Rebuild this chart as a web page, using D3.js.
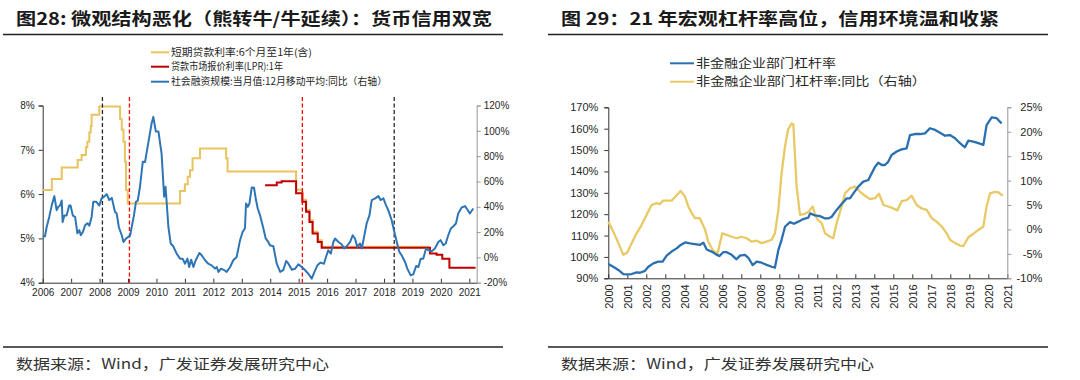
<!DOCTYPE html>
<meta charset="utf-8">
<style>
  body { margin: 0; background: #fff; }
  svg { display: block; background: #fff; }
  text { font-family: "Liberation Sans", Arial, sans-serif; }
  .cjk { font-family: "Noto Sans CJK SC", sans-serif; }
  .axis text { font-size: 10px; fill: #262626; }
  .axis2 text { font-size: 11px; fill: #262626; }
</style>
<body>
<svg width="1080" height="380"></svg>
</body>
<script src="https://cdn.jsdelivr.net/npm/d3@7"></script>
<script>
// ---------- left chart data (figure 28) ----------
// short-term loan rate 6m-1y (left axis, %), step changes [year, value]
var shortRate = [[2006.0, 6.09], [2006.32, 6.34], [2006.67, 6.6], [2007.23, 6.77], [2007.37, 6.88],
  [2007.52, 7.06], [2007.57, 7.18], [2007.64, 7.39], [2007.69, 7.54], [2007.72, 7.79], [2007.99, 7.98],
  [2008.72, 7.69], [2008.78, 7.45], [2008.84, 7.18], [2008.89, 6.73], [2008.93, 6.09], [2008.99, 5.79],
  [2010.83, 6.07], [2011.0, 6.22], [2011.1, 6.39], [2011.18, 6.54], [2011.27, 6.81], [2011.53, 7.03],
  [2012.45, 6.81], [2012.5, 6.51], [2014.91, 6.1], [2015.13, 5.87], [2015.26, 5.64], [2015.38, 5.41],
  [2015.49, 5.15], [2015.67, 4.96], [2015.81, 4.81], [2019.6, 4.81]];
// LPR 1y (left axis, %)
var lpr = [[2013.82, 6.2], [2014.23, 6.26], [2014.4, 6.29], [2014.91, 6.02], [2015.13, 5.83],
  [2015.26, 5.6], [2015.38, 5.37], [2015.49, 5.11], [2015.67, 4.92], [2015.81, 4.79], [2019.62, 4.66],
  [2019.85, 4.63], [2020.05, 4.54], [2020.3, 4.34], [2021.22, 4.34]];
// social financing, 12m moving avg, yoy (right axis, %)
var tsf = [[2006.0, 16.2], [2006.08, 16.7], [2006.14, 24], [2006.23, 32], [2006.32, 41.3], [2006.41, 48.4],
  [2006.49, 37.3], [2006.55, 40], [2006.61, 41], [2006.67, 45], [2006.7, 28], [2006.76, 33], [2006.84, 33],
  [2006.93, 41], [2006.98, 41], [2007.06, 33], [2007.14, 32], [2007.22, 19], [2007.29, 21.5], [2007.34, 17.5],
  [2007.41, 20], [2007.49, 25.4], [2007.57, 27], [2007.64, 25], [2007.72, 32], [2007.78, 44], [2007.88, 44],
  [2007.99, 41], [2008.07, 46.6], [2008.16, 48], [2008.25, 50], [2008.34, 45.3], [2008.43, 47], [2008.54, 36],
  [2008.6, 34.7], [2008.68, 23.6], [2008.78, 17.5], [2008.84, 12.2], [2008.93, 14.9], [2009.01, 16.2],
  [2009.07, 17], [2009.13, 24], [2009.21, 33.4], [2009.28, 44], [2009.34, 44.7], [2009.42, 55.8],
  [2009.52, 75.6], [2009.6, 75.4], [2009.66, 83.5], [2009.75, 95.4], [2009.83, 106], [2009.89, 111],
  [2009.95, 103], [2009.98, 99.4], [2010.07, 99.4], [2010.18, 82], [2010.27, 48], [2010.32, 55.8],
  [2010.42, 24], [2010.5, 11], [2010.59, 8.8], [2010.71, 3], [2010.83, -1], [2010.92, -1], [2011.0, -5],
  [2011.09, -1], [2011.15, -7.6], [2011.22, -1.8], [2011.3, -7.6], [2011.38, -2.3], [2011.51, 3.5],
  [2011.59, 1.7], [2011.71, -2.3], [2011.82, -5], [2011.94, -6.3], [2012.06, -8.9], [2012.12, -7.6],
  [2012.18, -11.5], [2012.27, -8.9], [2012.38, -10], [2012.47, -11.5], [2012.59, -7.6], [2012.7, -2.3],
  [2012.82, 0.3], [2012.94, 13.6], [2013.03, 20.2], [2013.11, 22.8], [2013.15, 42.6], [2013.21, 40],
  [2013.27, 42.6], [2013.35, 55.3], [2013.43, 55], [2013.5, 45.3], [2013.56, 38.6], [2013.64, 33.4],
  [2013.76, 22.8], [2013.84, 15], [2013.93, 12.2], [2013.99, 9.6], [2014.11, 8.8], [2014.23, -5],
  [2014.35, -11.5], [2014.46, -10], [2014.56, -2.8], [2014.64, -5], [2014.76, -9.7], [2014.87, -9],
  [2014.99, -5.5], [2015.11, -7.6], [2015.22, -10], [2015.34, -12.9], [2015.46, -16.8], [2015.54, -12.3],
  [2015.66, -6.3], [2015.77, -4.1], [2015.89, -5], [2015.96, 0.3], [2016.04, 5.6], [2016.13, 3],
  [2016.22, 12.2], [2016.28, 14.9], [2016.4, 12.2], [2016.51, 10.4], [2016.6, 7], [2016.69, 8.8],
  [2016.81, 12.2], [2016.9, 17.5], [2016.98, 14.9], [2017.06, 8.3], [2017.16, 11], [2017.22, 7],
  [2017.3, 16.2], [2017.39, 26.8], [2017.49, 33.4], [2017.57, 45.3], [2017.69, 46.6], [2017.8, 48.4],
  [2017.88, 45.3], [2017.98, 46.6], [2018.07, 41.3], [2018.15, 37.3], [2018.27, 29.4], [2018.35, 21.5],
  [2018.45, 12.2], [2018.54, 4.3], [2018.62, 1.7], [2018.74, -3.6], [2018.82, -8.9], [2018.94, -14.2],
  [2019.03, -13.4], [2019.13, -6.8], [2019.21, -7.6], [2019.29, -1], [2019.38, -1], [2019.48, 7],
  [2019.56, 5.6], [2019.68, 4.8], [2019.79, 7], [2019.91, 12.2], [2019.99, 13.6], [2020.09, 9.6],
  [2020.17, 11], [2020.26, 17.5], [2020.35, 22.8], [2020.44, 24.6], [2020.53, 26.8], [2020.61, 34.7],
  [2020.73, 39.4], [2020.85, 40.5], [2020.93, 37.8], [2021.02, 34.7], [2021.14, 38.6]];
// turning points marked with dashed lines
var markYears = [2008.1, 2009.05, 2015.13, 2018.36];
var markColors = ["#262626", "#ff0000", "#ff0000", "#262626"];
var yearsL = d3.range(2006, 2022);
var leftTicksL = [4, 5, 6, 7, 8];
var rightTicksL = [-20, 0, 20, 40, 60, 80, 100, 120];

// ---------- right chart data (figure 29) ----------
// non-financial corporate leverage (left axis, %)
var lev = [[2000.0, 96.7], [2000.26, 95.4], [2000.53, 93.9], [2000.79, 92.0], [2001.0, 91.8], [2001.23, 92.0],
  [2001.49, 92.8], [2001.67, 92.6], [2001.93, 93.5], [2002.11, 95.4], [2002.37, 97.0], [2002.63, 97.8],
  [2002.86, 97.8], [2003.07, 100.6], [2003.33, 102.5], [2003.6, 104.0], [2003.81, 105.6], [2004.04, 106.8],
  [2004.3, 106.3], [2004.56, 106.0], [2004.82, 105.6], [2005.0, 106.7], [2005.18, 103.5], [2005.44, 102.5],
  [2005.67, 101.2], [2005.84, 100.4], [2006.05, 102.2], [2006.23, 102.2], [2006.49, 101.0], [2006.75, 98.9],
  [2006.93, 100.6], [2007.19, 101.0], [2007.37, 99.6], [2007.6, 96.2], [2007.81, 97.8], [2008.07, 97.3],
  [2008.33, 96.3], [2008.6, 95.4], [2008.77, 95.0], [2008.95, 103.2], [2009.12, 108.0], [2009.3, 114.1],
  [2009.56, 116.3], [2009.77, 115.5], [2010.0, 116.5], [2010.26, 117.7], [2010.53, 118.4], [2010.62, 120.4],
  [2010.88, 119.4], [2011.14, 119.1], [2011.41, 118.0], [2011.58, 118.0], [2011.76, 118.8], [2012.02, 122.0],
  [2012.28, 124.8], [2012.55, 127.4], [2012.72, 127.4], [2012.9, 129.7], [2013.16, 132.9], [2013.42, 135.2],
  [2013.69, 136.0], [2013.86, 139.1], [2014.04, 142.2], [2014.21, 144.1], [2014.39, 143.0], [2014.56, 143.0],
  [2014.74, 144.6], [2014.91, 147.7], [2015.18, 149.3], [2015.44, 150.3], [2015.7, 150.8], [2015.88, 157.0],
  [2016.14, 157.5], [2016.41, 157.5], [2016.67, 157.8], [2016.93, 160.2], [2017.2, 159.4], [2017.46, 158.1],
  [2017.72, 156.7], [2017.98, 157.0], [2018.25, 155.5], [2018.51, 153.2], [2018.77, 151.3], [2018.95, 154.4],
  [2019.21, 153.9], [2019.48, 153.2], [2019.74, 152.4], [2019.91, 161.7], [2020.18, 165.3], [2020.44, 164.9],
  [2020.7, 162.5]];
// leverage yoy change (right axis, %)
var levYoy = [[2000.0, 1.6], [2000.26, -0.4], [2000.53, -2.8], [2000.79, -5.2], [2001.0, -4.7], [2001.23, -2.8],
  [2001.49, -0.8], [2001.75, 0.9], [2002.02, 3.0], [2002.28, 5.0], [2002.54, 5.4], [2002.72, 5.2],
  [2002.89, 5.9], [2003.07, 5.9], [2003.33, 5.9], [2003.6, 7.0], [2003.81, 7.9], [2004.04, 6.7],
  [2004.21, 4.7], [2004.39, 3.4], [2004.56, 2.3], [2004.82, 2.3], [2005.09, 0.0], [2005.26, -2.5],
  [2005.51, -4.3], [2005.75, -4.9], [2006.0, -0.8], [2006.23, -1.1], [2006.49, -1.5], [2006.75, -1.8],
  [2007.02, -1.5], [2007.28, -1.8], [2007.54, -2.5], [2007.81, -2.3], [2008.07, -2.8], [2008.33, -2.5],
  [2008.6, -2.1], [2008.77, -0.8], [2008.95, 4.0], [2009.12, 11.5], [2009.3, 17.0], [2009.47, 20.5],
  [2009.65, 21.7], [2009.74, 21.5], [2009.91, 8.8], [2010.09, 3.0], [2010.35, 3.2], [2010.53, 3.6],
  [2010.76, 4.7], [2010.88, 3.0], [2011.05, 1.9], [2011.23, 1.3], [2011.41, -0.8], [2011.67, -1.5],
  [2011.84, -1.8], [2012.02, 1.3], [2012.28, 4.7], [2012.46, 7.4], [2012.72, 8.4], [2012.98, 8.8],
  [2013.25, 7.7], [2013.51, 6.9], [2013.77, 6.2], [2014.04, 6.4], [2014.25, 7.3], [2014.48, 5.0],
  [2014.74, 4.7], [2015.0, 4.3], [2015.21, 3.9], [2015.44, 5.8], [2015.7, 6.0], [2015.97, 6.9],
  [2016.23, 5.0], [2016.49, 4.3], [2016.76, 4.0], [2017.02, 2.3], [2017.28, 1.6], [2017.55, 0.6],
  [2017.81, -0.8], [2017.98, -2.1], [2018.25, -2.8], [2018.51, -3.3], [2018.69, -3.4], [2018.95, -1.6],
  [2019.21, -0.9], [2019.48, -0.1], [2019.74, 0.6], [2019.91, 4.7], [2020.09, 7.4], [2020.35, 7.7],
  [2020.53, 7.6], [2020.76, 6.9]];
var yearsR = d3.range(2000, 2022);
var leftTicksR = [90, 100, 110, 120, 130, 140, 150, 160, 170];
var rightTicksR = [-10, -5, 0, 5, 10, 15, 20, 25];

var svg = d3.select("svg");
var pct = function(d) { return d + "%"; };

// ---------- common frame: titles, rules, source ----------
function frame(x0, x1, title, titleX, titleW) {
  svg.append("text").attr("class", "cjk").attr("x", titleX).attr("y", 25)
    .attr("textLength", titleW).attr("lengthAdjust", "spacingAndGlyphs")
    .style("font-size", "17px").style("font-weight", "bold").style("fill", "#1a1a1a")
    .text(title);
  svg.append("line").attr("x1", x0).attr("x2", x1).attr("y1", 34.5).attr("y2", 34.5)
    .attr("stroke", "#222").attr("stroke-width", 1.5);
  svg.append("line").attr("x1", x0).attr("x2", x1).attr("y1", 347).attr("y2", 347)
    .attr("stroke", "#222").attr("stroke-width", 1.5);
  svg.append("text").attr("class", "cjk").attr("x", titleX).attr("y", 369)
    .attr("textLength", 313).attr("lengthAdjust", "spacingAndGlyphs")
    .style("font-size", "14px").style("fill", "#333")
    .text("数据来源：Wind，广发证券发展研究中心");
}
frame(3, 503, "图28: 微观结构恶化（熊转牛/牛延续）：货币信用双宽", 16, 476);
frame(548, 1048, "图 29：21 年宏观杠杆率高位，信用环境温和收紧", 561, 438);

function legend(items, x, ys, size, lens, lineW) {
  items.forEach(function(it, i) {
    svg.append("line").attr("x1", x).attr("x2", x + lineW).attr("y1", ys[i]).attr("y2", ys[i])
      .attr("stroke", it[1]).attr("stroke-width", 2);
    svg.append("text").attr("class", "cjk").attr("x", x + lineW + 2).attr("y", ys[i])
      .attr("dy", "0.35em").attr("textLength", lens[i]).attr("lengthAdjust", "spacingAndGlyphs")
      .style("font-size", size + "px").style("fill", "#262626").text(it[0]);
  });
}

function styleAxis(g, color) {
  g.select(".domain").attr("stroke", color);
  g.selectAll(".tick line").attr("stroke", color);
}

// ---------- left chart ----------
var xL = d3.scaleLinear().domain([2006, 2021.26]).range([42.7, 476.7]);
var yL = d3.scaleLinear().domain([4, 8]).range([282.7, 105.5]);
var yLR = d3.scaleLinear().domain([-20, 120]).range([282.7, 105.5]);

var gxL = svg.append("g").attr("class", "axis").attr("transform", "translate(0,282.7)")
  .call(d3.axisBottom(xL).tickValues(yearsL).tickFormat(d3.format("d")).tickSizeInner(-4).tickSizeOuter(0).tickPadding(6));
styleAxis(gxL, "#333");
var gyL = svg.append("g").attr("class", "axis").attr("transform", "translate(42.7,0)")
  .call(d3.axisLeft(yL).tickValues(leftTicksL).tickFormat(pct).tickSize(4).tickPadding(4));
styleAxis(gyL, "#333");
var gyLR = svg.append("g").attr("class", "axis").attr("transform", "translate(476.7,0)")
  .call(d3.axisRight(yLR).tickValues(rightTicksL).tickFormat(pct).tickSize(4).tickPadding(3));
styleAxis(gyLR, "#999");

var stepL = d3.line().curve(d3.curveStepAfter).x(function(d) { return xL(d[0]); }).y(function(d) { return yL(d[1]); });
var lineLR = d3.line().x(function(d) { return xL(d[0]); }).y(function(d) { return yLR(d[1]); });

svg.append("path").datum(shortRate).attr("d", stepL).attr("fill", "none").attr("stroke", "#e8c35f").attr("stroke-width", 2);
svg.append("path").datum(lpr).attr("d", stepL).attr("fill", "none").attr("stroke", "#c00000").attr("stroke-width", 2);

svg.selectAll(".mark").data(markYears).enter().append("line").attr("class", "mark")
  .attr("x1", function(d) { return xL(d); }).attr("x2", function(d) { return xL(d); })
  .attr("y1", 97).attr("y2", 282.7)
  .attr("stroke", function(d, i) { return markColors[i]; })
  .attr("stroke-width", 1.3).attr("stroke-dasharray", "4,2.5");

svg.append("path").datum(tsf).attr("d", lineLR).attr("fill", "none").attr("stroke", "#2e75b6")
  .attr("stroke-width", 2).attr("stroke-linejoin", "round");

legend([["短期贷款利率:6个月至1年(含)", "#e8c35f"], ["贷款市场报价利率(LPR):1年", "#c00000"],
  ["社会融资规模:当月值:12月移动平均:同比（右轴）", "#2e75b6"]],
  151, [52.3, 66.7, 81.7], 10, [141, 112, 216], 18);

// ---------- right chart ----------
var xR = d3.scaleLinear().domain([2000, 2021]).range([608.3, 1007.3]);
var yR = d3.scaleLinear().domain([90, 170]).range([278.3, 107.3]);
var yRR = d3.scaleLinear().domain([-10, 25]).range([278.3, 107.3]);

var gxR = svg.append("g").attr("class", "axis2").attr("transform", "translate(0,278.3)")
  .call(d3.axisBottom(xR).tickValues(yearsR).tickFormat(d3.format("d")).tickSizeInner(-4).tickSizeOuter(0));
styleAxis(gxR, "#333");
gxR.selectAll(".tick text").attr("transform", "rotate(-90)").attr("x", -6).attr("y", 0)
  .attr("dy", "0.35em").style("text-anchor", "end");
var gyR = svg.append("g").attr("class", "axis2").attr("transform", "translate(608.3,0)")
  .call(d3.axisLeft(yR).tickValues(leftTicksR).tickFormat(pct).tickSize(4).tickPadding(6));
styleAxis(gyR, "#333");
var gyRR = svg.append("g").attr("class", "axis2").attr("transform", "translate(1007.3,0)")
  .call(d3.axisRight(yRR).tickValues(rightTicksR).tickFormat(pct).tickSize(4));
styleAxis(gyRR, "#999");
gyRR.selectAll(".tick text").attr("x", 35).style("text-anchor", "end");

var lineR = d3.line().x(function(d) { return xR(d[0]); }).y(function(d) { return yR(d[1]); });
var lineRR = d3.line().x(function(d) { return xR(d[0]); }).y(function(d) { return yRR(d[1]); });

svg.append("path").datum(levYoy).attr("d", lineRR).attr("fill", "none").attr("stroke", "#e9c965")
  .attr("stroke-width", 2.3).attr("stroke-linejoin", "round");
svg.append("path").datum(lev).attr("d", lineR).attr("fill", "none").attr("stroke", "#2a70b0")
  .attr("stroke-width", 2.3).attr("stroke-linejoin", "round");

legend([["非金融企业部门杠杆率", "#2a70b0"], ["非金融企业部门杠杆率:同比（右轴）", "#e9c965"]],
  670, [63.3, 81.7], 12, [140, 230], 24);
</script>
